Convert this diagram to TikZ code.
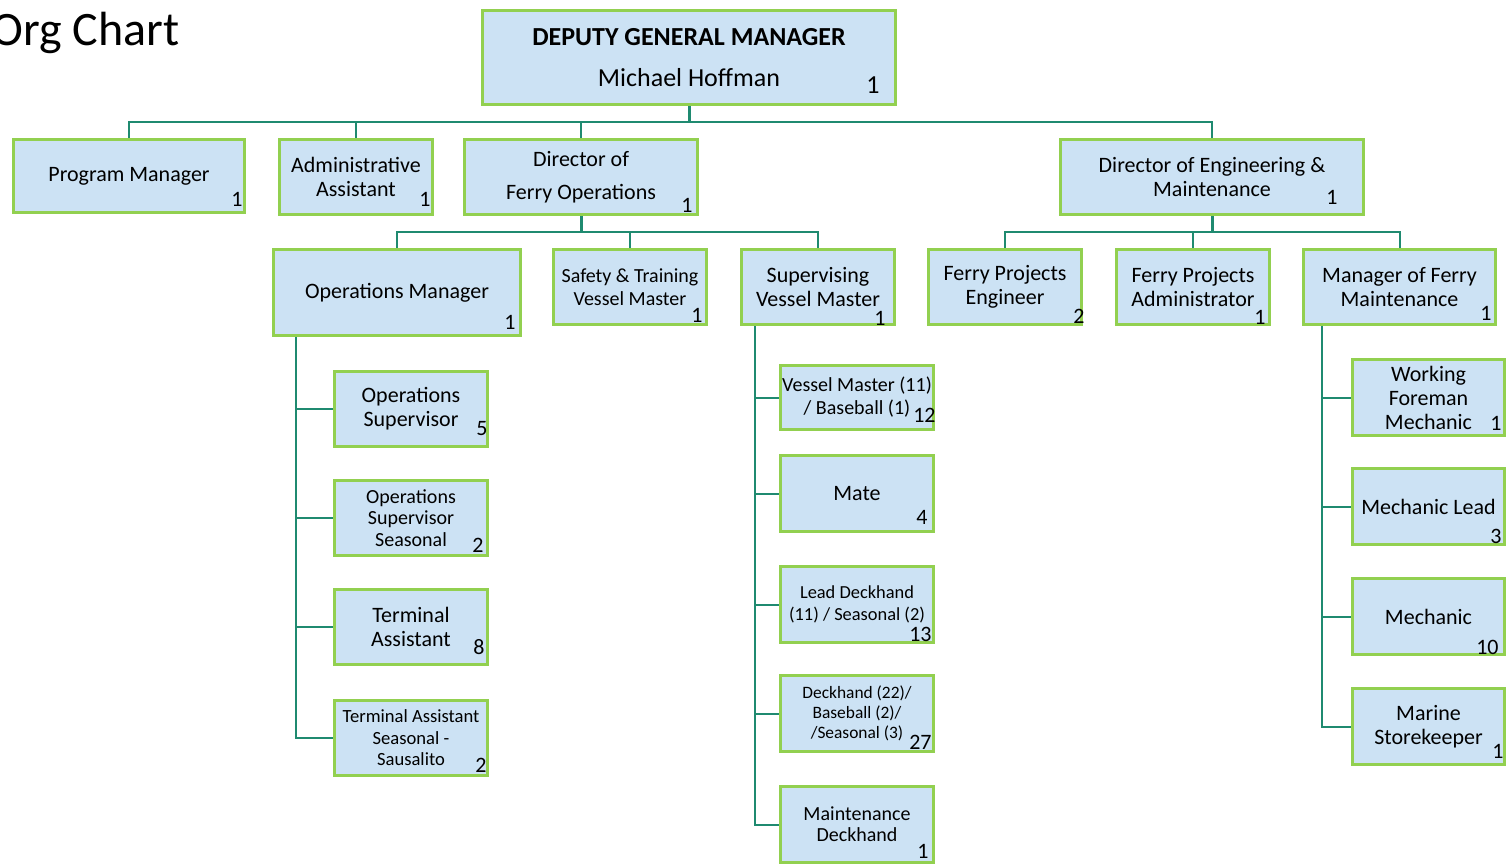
\documentclass[tikz,border=0pt]{standalone}
\usepackage{fontspec}
\setmainfont{Carlito}
\usepackage{xcolor}
\usepackage{tikz}
\usetikzlibrary{positioning}
\definecolor{boxfill}{HTML}{CCE2F4}
\definecolor{boxline}{HTML}{92D050}
\definecolor{linkteal}{HTML}{1F8A70}
\tikzset{
  post/.style  = {rectangle, draw=boxline, line width=1.5pt, fill=boxfill,
                  minimum width=76.5pt, minimum height=37.5pt, inner sep=0.5pt,
                  align=center, font=\fontsize{11}{12}\selectfont},
  link/.style  = {draw=linkteal, line width=1pt},
  trunk/.style = {draw=linkteal, line width=1.5pt},
  count/.style = {inner sep=0pt, anchor=base east, font=\fontsize{11}{12}\selectfont},
  title/.style = {inner sep=0pt, anchor=base west, font=\fontsize{24}{28}\selectfont},
}
% head count in the lower right corner of a post
\newcommand{\headcount}[4]{\node[count] (#1-n) at ([shift={(#3,#4)}]#1.south east) {#2};}

\begin{document}
\begin{tikzpicture}[x=0.5pt, y=-0.5pt]

  \useasboundingbox (0,0) rectangle (1507,863);

  \node[title] (title) at (-9,45) {Org Chart};

  % top level
  \node[post, minimum width=206.5pt, minimum height=47pt, font=\fontsize{13}{15}\selectfont] (dgm)
       at (689,57.5) {\textbf{DEPUTY GENERAL MANAGER}\\[5.5pt] Michael Hoffman};

  \node[post, minimum width=115.5pt, minimum height=36.5pt] (pm) at (129,176) {Program Manager};
  \node[post] (aa) at (356,177) {Administrative\\Assistant};
  \node[post, minimum width=116.5pt] (dfo) at (581,177) {Director of\\[4.5pt] Ferry Operations};
  \node[post, minimum width=151.5pt] (dem) at (1212,177) {Director of Engineering \&\\Maintenance};

  % ferry operations
  \node[post, minimum width=123.5pt, minimum height=43pt] (opm) at (397,292.5) {Operations Manager};
  \node[post, font=\fontsize{10}{11.5}\selectfont] (stvm) at (630,287) {Safety \& Training\\Vessel Master};
  \node[post] (svm) at (818,287) {Supervising\\Vessel Master};

  % engineering & maintenance
  \node[post] (fpe) at (1005,287) {Ferry Projects\\Engineer};
  \node[post] (fpa) at (1193,287) {Ferry Projects\\Administrator};
  \node[post, minimum width=96pt] (mfm) at (1399.5,287) {Manager of Ferry\\Maintenance};

  % under the operations manager
  \node[post] (opsup) at (411,409) {Operations\\Supervisor};
  \node[post, below=15.5pt of opsup, font=\fontsize{10}{10.75}\selectfont] (opseas)
       {Operations\\Supervisor\\Seasonal};
  \node[post, below=15.5pt of opseas] (term) {Terminal\\Assistant};
  \node[post, below=16.5pt of term, font=\fontsize{9.3}{10.75}\selectfont] (termseas)
       {Terminal Assistant\\Seasonal -\\Sausalito};

  % under the supervising vessel master
  \node[post, minimum height=32pt, font=\fontsize{10}{11.5}\selectfont] (vm)
       at (857,397.5) {Vessel Master (11)\\/ Baseball (1)};
  \node[post, minimum height=38pt, below=11.5pt of vm] (mate) {Mate};
  \node[post, minimum height=38pt, below=16pt of mate, font=\fontsize{9.2}{11}\selectfont] (lead)
       {Lead Deckhand\\(11) / Seasonal (2)};
  \node[post, minimum height=38pt, below=15pt of lead, font=\fontsize{8.7}{10}\selectfont] (deck)
       {Deckhand (22)/\\Baseball (2)/\\/Seasonal (3)};
  \node[post, minimum height=38pt, below=16pt of deck, font=\fontsize{10}{10.5}\selectfont] (maint)
       {Maintenance\\Deckhand};

  % under the manager of ferry maintenance
  \node[post, minimum width=76pt, minimum height=38pt] (wfm) at (1428.5,397.5) {Working\\Foreman\\Mechanic};
  \node[post, minimum width=76pt, minimum height=38pt, below=15pt of wfm] (ml) {Mechanic Lead};
  \node[post, minimum width=76pt, minimum height=38pt, below=15.5pt of ml] (mech) {Mechanic};
  \node[post, minimum width=76pt, minimum height=38pt, below=15.5pt of mech] (ms) {Marine\\Storekeeper};

  % reporting lines
  \draw[trunk] (dgm.south) -- ++(0,16);
  \draw[link] (dgm.south) -- ++(0,16) -| (pm.north);
  \draw[link] (dgm.south) -- ++(0,16) -| (aa.north);
  \draw[link] (dgm.south) -- ++(0,16) -| (dfo.north);
  \draw[link] (dgm.south) -- ++(0,16) -| (dem.north);

  \draw[trunk] (dfo.south) -- ++(0,16);
  \draw[link] (dfo.south) -- ++(0,16) -| (opm.north);
  \draw[link] (dfo.south) -- ++(0,16) -| (stvm.north);
  \draw[link] (dfo.south) -- ++(0,16) -| (svm.north);

  \draw[trunk] (dem.south) -- ++(0,16);
  \draw[link] (dem.south) -- ++(0,16) -| (fpe.north);
  \draw[link] (dem.south) -- ++(0,16) -| (fpa.north);
  \draw[link] (dem.south) -- ++(0,16) -| (mfm.north);

  \foreach \p in {opsup, opseas, term, termseas}
    \draw[link] ([shift={(24,0)}]opm.south west) |- (\p.west);
  \foreach \p in {vm, mate, lead, deck, maint}
    \draw[link] ([shift={(15,0)}]svm.south west) |- (\p.west);
  \foreach \p in {wfm, ml, mech, ms}
    \draw[link] ([shift={(20,0)}]mfm.south west) |- (\p.west);

  % head counts
  \node[count, font=\fontsize{13}{15}\selectfont] (dgm-n) at ([shift={(-17,-13)}]dgm.south east) {1};
  \headcount{pm}{1}{-3}{-8}
  \headcount{aa}{1}{-3}{-10}
  \headcount{dfo}{1}{-6}{-4}
  \headcount{dem}{1}{-27}{-12}
  \headcount{opm}{1}{-6}{-8}
  \headcount{stvm}{1}{-5}{-4}
  \headcount{svm}{1}{-10}{-1}
  \headcount{fpe}{2}{2}{-3}
  \headcount{fpa}{1}{-5}{-2}
  \headcount{mfm}{1}{-5}{-6}
  \headcount{opsup}{5}{-1}{-13}
  \headcount{opseas}{2}{-5}{-5}
  \headcount{term}{8}{-4}{-12}
  \headcount{termseas}{2}{-2}{-5}
  \headcount{vm}{12}{1}{-9}
  \headcount{mate}{4}{-7}{-9}
  \headcount{lead}{13}{-3}{-3}
  \headcount{deck}{27}{-3}{-4}
  \headcount{maint}{1}{-6}{-6}
  \headcount{wfm}{1}{-4}{-7}
  \headcount{ml}{3}{-4}{-3}
  \headcount{mech}{10}{-7}{-2}
  \headcount{ms}{1}{-2}{-8}

\end{tikzpicture}
\end{document}
